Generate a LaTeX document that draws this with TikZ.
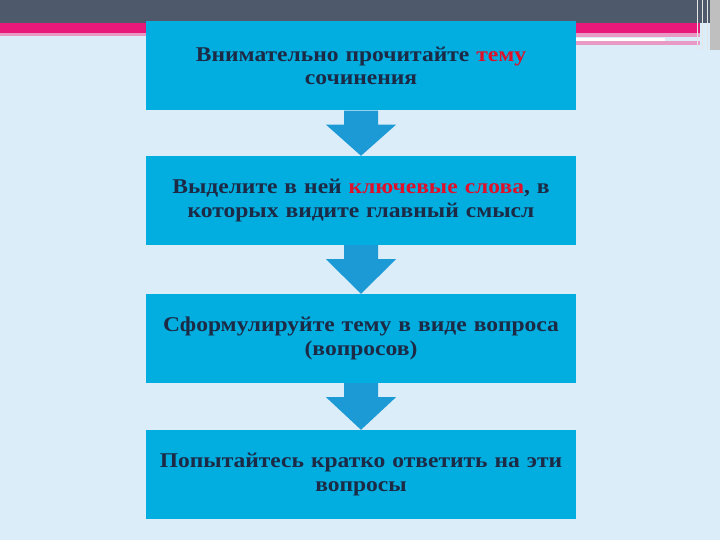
\documentclass[tikz,border=0pt]{standalone}
\usepackage{fontspec}
\setmainfont{Liberation Serif}
\newfontfamily\boxfont{Liberation Serif}[FakeStretch=1.12]
\definecolor{bgblue}{HTML}{DCEDFA}
\definecolor{slate}{HTML}{4E5A6B}
\definecolor{hotpink}{HTML}{E8177A}
\definecolor{lightpink}{HTML}{E99AC4}
\definecolor{boxblue}{HTML}{02ADE0}
\definecolor{arrowblue}{HTML}{1B9AD6}
\definecolor{navy}{HTML}{1C2A45}
\definecolor{hlred}{HTML}{E0102A}
\begin{document}
\begin{tikzpicture}[x=1pt,y=-1pt,
  stepbox/.style={fill=boxblue,draw=none,minimum width=430pt,minimum height=89pt,inner sep=0pt,
    text width=428pt,align=center,font=\boxfont\fontsize{21}{23.5}\selectfont\bfseries,text=navy},
  flowarrow/.style={fill=arrowblue,draw=none}]
\useasboundingbox (0,0) rectangle (720,540);
\fill[bgblue] (0,0) rectangle (720,540);
% header bars
\fill[slate] (0,0) rectangle (720,23);
\fill[hotpink] (0,23) rectangle (700,33);
\fill[lightpink] (0,33) rectangle (146,36);
\fill[lightpink] (576,33) rectangle (700,37);
\fill[white] (576,38) rectangle (665,41);
\fill[lightpink] (576,41) rectangle (700,45);
\fill[gray!50] (710,0) rectangle (720,50);
\draw[white!80!gray,line width=1pt] (697,0) -- (697,50) (702,0) -- (702,50) (707,0) -- (707,50);
% boxes
\node[stepbox] (b1) at (361,66) {Внимательно прочитайте \textcolor{hlred}{тему}\\сочинения};
\node[stepbox] (b2) at (361,200.5) {Выделите в ней \textcolor{hlred}{ключевые слова}, в\\которых видите главный смысл};
\node[stepbox] (b3) at (361,338.5) {Сформулируйте тему  в виде вопроса\\(вопросов)};
\node[stepbox] (b4) at (361,474.5) {Попытайтесь кратко ответить на эти\\вопросы};
% arrows
\foreach \a/\b in {b1/b2,b2/b3,b3/b4}{
  \fill[flowarrow] ([xshift=-17pt]\a.south) -- ([xshift=17pt]\a.south)
    -- ([xshift=17pt,yshift=-14pt]\a.south) -- ([xshift=35pt,yshift=-14pt]\a.south)
    -- (\b.north) -- ([xshift=-35pt,yshift=-14pt]\a.south)
    -- ([xshift=-17pt,yshift=-14pt]\a.south) -- cycle;
}
\end{tikzpicture}
\end{document}
